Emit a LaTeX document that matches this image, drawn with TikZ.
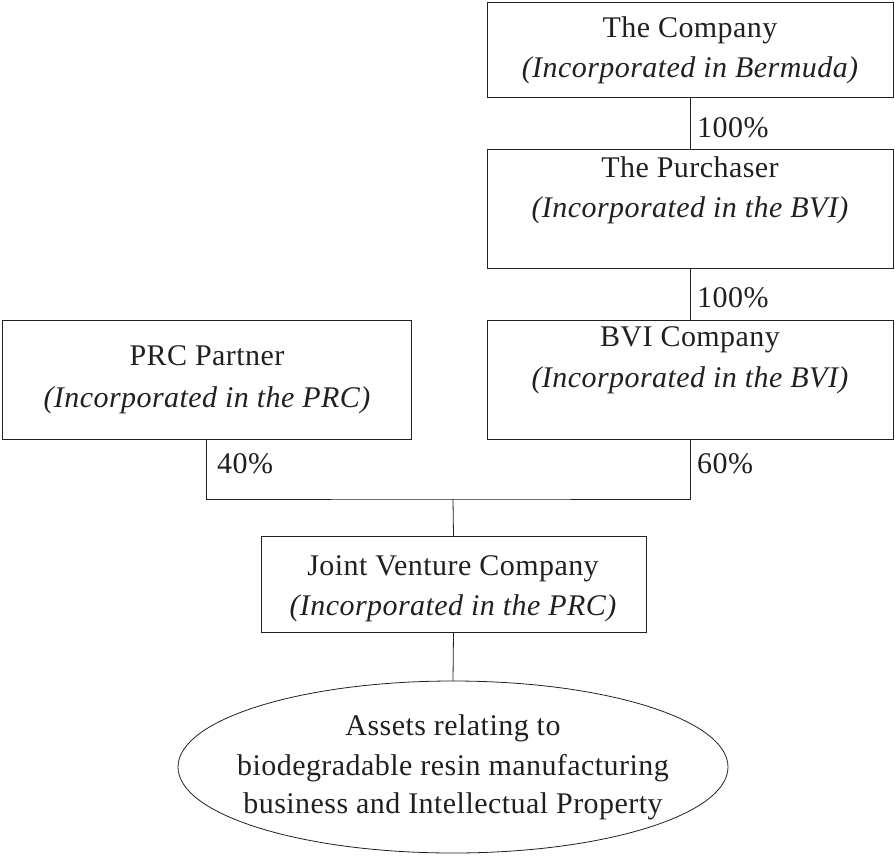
\documentclass[tikz,border=0pt]{standalone}
\usepackage{fontspec}
\setmainfont{Liberation Serif}
\usetikzlibrary{shapes.geometric}
\definecolor{ink}{HTML}{231F20}
\newfontfamily\regfam[LetterSpace=1.5]{Liberation Serif}
\newfontfamily\itfam[LetterSpace=2,UprightFont=*-Italic]{Liberation Serif}
\begin{document}
\begin{tikzpicture}[x=1pt,y=-1pt,
  box/.style={draw=ink, line width=0.8pt, rectangle, inner sep=0pt, outer sep=0pt},
  oval/.style={draw=ink, line width=0.8pt, ellipse, inner sep=0pt, outer sep=0pt},
  txt/.style={text=ink, font=\fontsize{30}{40}\selectfont\regfam, anchor=base, inner sep=0pt},
  itx/.style={txt, font=\fontsize{30}{40}\selectfont\regfam\itshape},
  pct/.style={text=ink, font=\fontsize{30}{40}\selectfont\regfam, anchor=base west, inner sep=0pt},
  conn/.style={draw=ink, line width=0.8pt}]
\useasboundingbox (0,0) rectangle (895,857);
% boxes
\node[box, minimum width=406pt, minimum height=95pt] (company) at (690,49.5) {};
\node[box, minimum width=406pt, minimum height=119pt] (purch) at (690,208.5) {};
\node[box, minimum width=406pt, minimum height=119pt] (bvi) at (690,379.5) {};
\node[box, minimum width=409pt, minimum height=119pt] (prc) at (206.5,379.5) {};
\node[box, minimum width=385pt, minimum height=96pt] (jv) at (453.5,584) {};
\node[oval, minimum width=550pt, minimum height=172pt] (assets) at (453,767) {};
% texts
\node[txt] (t1a) at (690,37) {The Company};
\node[itx] (t1b) at (690,77) {(Incorporated in Bermuda)};
\node[txt] (t2a) at (690,177) {The Purchaser};
\node[itx] (t2b) at (690,217) {(Incorporated in the BVI)};
\node[txt] (t3a) at (690,346) {BVI Company};
\node[itx] (t3b) at (690,387) {(Incorporated in the BVI)};
\node[txt] (t4a) at (207,365) {PRC Partner};
\node[itx] (t4b) at (207,407) {(Incorporated in the PRC)};
\node[txt] (t5a) at (453,575) {Joint Venture Company};
\node[itx] (t5b) at (453,615) {(Incorporated in the PRC)};
\node[txt] (t6a) at (453,735) {Assets relating to};
\node[txt] (t6b) at (453,775) {biodegradable resin manufacturing};
\node[txt] (t6c) at (453,813) {business and Intellectual Property};
% percentages
\node[pct] (p1) at (697,137) {100\%};
\node[pct] (p2) at (697,307) {100\%};
\node[pct] (p3) at (217,473) {40\%};
\node[pct] (p4) at (697,473) {60\%};
% connectors
\coordinate (j) at (453,499);
\draw[conn] (company.south) -- (purch.north);
\draw[conn] (purch.south) -- (bvi.north);
\draw[conn] (prc.south) |- (j) -| (bvi.south);
\draw[conn] (j) -- (jv.north);
\draw[conn] (jv.south) -- (assets.north);
\end{tikzpicture}
\end{document}
